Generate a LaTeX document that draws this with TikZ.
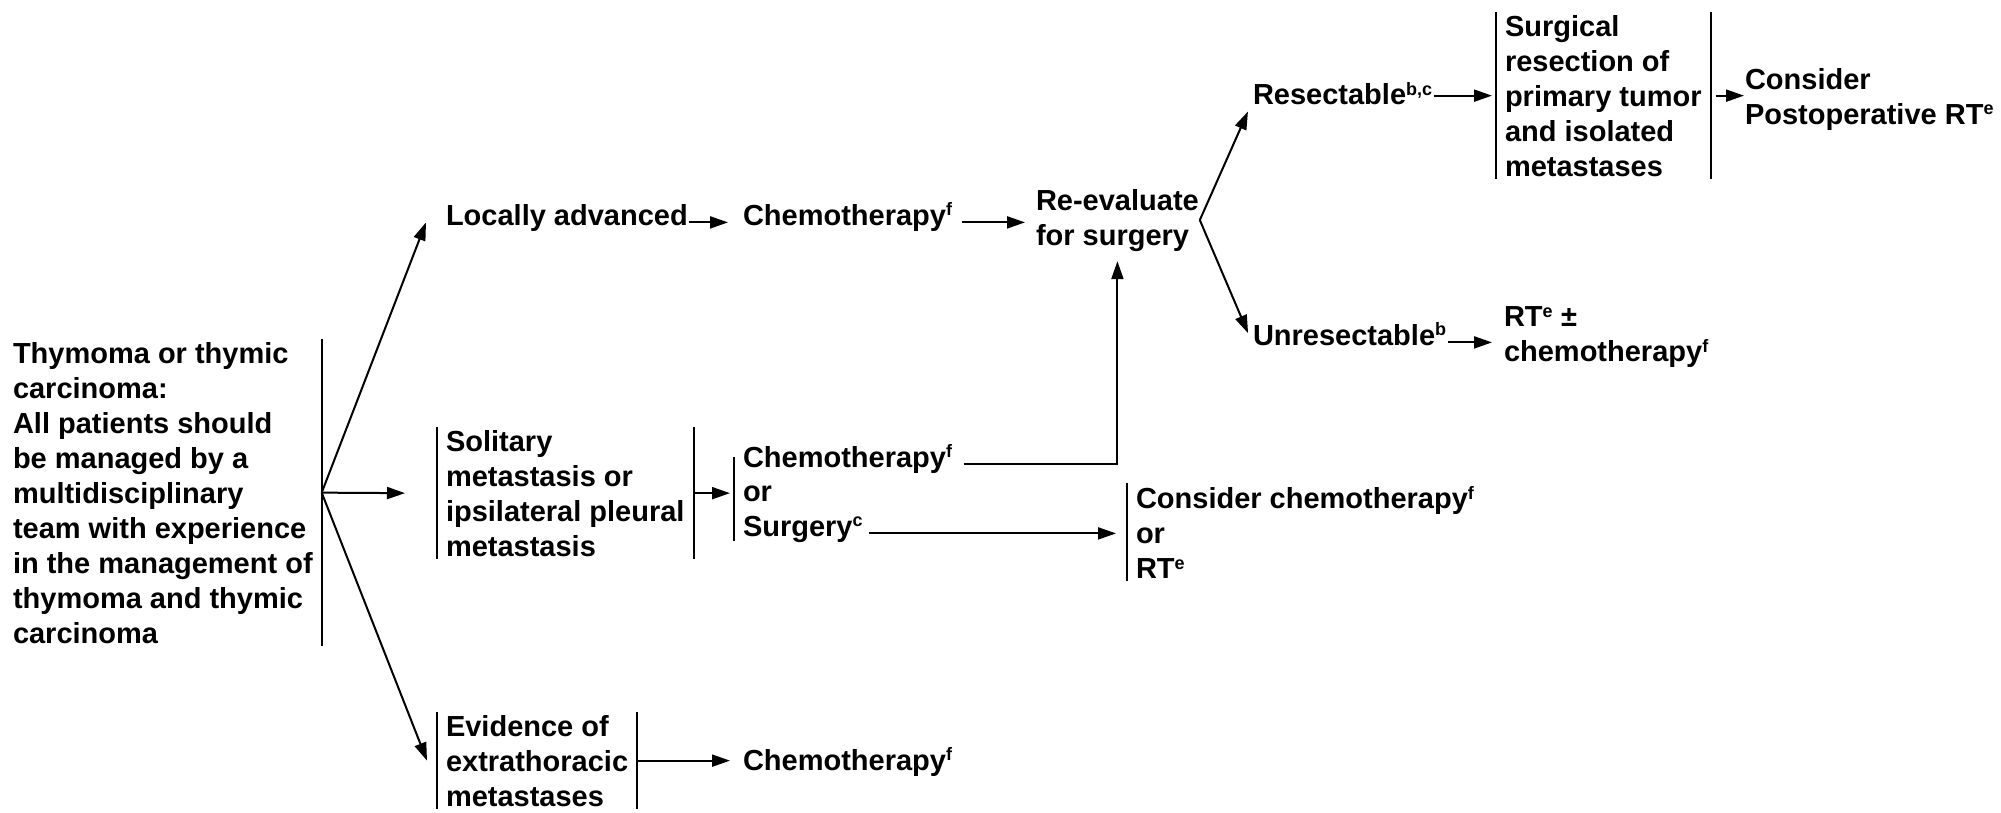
\documentclass[tikz,border=0pt]{standalone}
\usepackage{fontspec}
\setmainfont{Liberation Sans}
\usetikzlibrary{arrows.meta}
\newcommand\sps[1]{\textsuperscript{\fontsize{18}{18}\selectfont #1}}
\begin{document}
\begin{tikzpicture}[x=1pt,y=-1pt,line width=2pt,
    every node/.style={font=\fontsize{29}{35}\selectfont\bfseries,inner xsep=0pt,inner ysep=2pt,align=left},
    one/.style={text height=0.72em,text depth=0.2em},
    box/.style={inner xsep=8pt},
    arr/.style={-{Triangle[length=18pt,width=12pt]}}]
    \useasboundingbox (0,0) rectangle (2001,813);
    % first column
    \node[box,anchor=north west] (main) at (4,339) {Thymoma or thymic\\carcinoma:\\All patients should\\be managed by a\\multidisciplinary\\team with experience\\in the management of\\thymoma and thymic\\carcinoma};
    \node[one,anchor=base west] (la) at (445,225) {Locally advanced};
    \node[box,anchor=north west] (sol) at (437,427) {Solitary\\metastasis or\\ipsilateral pleural\\metastasis};
    \node[box,anchor=north west] (evi) at (437,712) {Evidence of\\extrathoracic\\metastases};
    % treatments
    \node[one,anchor=base west] (chemo1) at (742,225) {Chemotherapy\sps{f}};
    \node[one,anchor=base west] (cchemo) at (742,467) {Chemotherapy\sps{f}};
    \node[one,anchor=base west] (cor) at (742,501) {or};
    \node[one,anchor=base west] (csurg) at (742,536) {Surgery\sps{c}};
    \node[one,anchor=base west] (chemo3) at (742,770) {Chemotherapy\sps{f}};
    \node[anchor=north west] (reeval) at (1035,186) {Re-evaluate\\for surgery};
    \node[box,anchor=north west] (conchemo) at (1127,483) {Consider chemotherapy\sps{f}\\or\\RT\sps{e}};
    % after re-evaluation
    \node[one,anchor=base west] (resect) at (1252,105) {Resectable\sps{b,c}};
    \node[one,anchor=base west] (unresect) at (1252,345) {Unresectable\sps{b}};
    \node[box,anchor=north west] (surg) at (1496,12) {Surgical\\resection of\\primary tumor\\and isolated\\metastases};
    \node[anchor=north west] (postop) at (1744,65) {Consider\\Postoperative RT\sps{e}};
    \node[anchor=north west] (rtchemo) at (1503,304) {RT\sps{e} ±\\chemotherapy\sps{f}};
    % bars
    \draw (main.north east) -- (main.south east);
    \foreach \n in {sol,surg,evi}
    \draw (\n.north west) -- (\n.south west) (\n.north east) -- (\n.south east);
    \draw (conchemo.north west) -- (conchemo.south west);
    \draw ([xshift=-8pt]cchemo.north west) -- ([xshift=-8pt]csurg.south west);
    % arrows
    \draw[arr] (main.east) -- ([xshift=-19pt]la.west);
    \draw[arr] (main.east) -- ([xshift=-32pt]sol.west);
    \draw[arr] (main.east) -- ([xshift=-10pt]evi.west);
    \draw[arr,shorten >=14pt] (la) -- (chemo1);
    \draw[arr,shorten <=8pt,shorten >=10pt] (chemo1.east) -- (chemo1.east -| reeval.west);
    \draw[arr,shorten >=10pt] (reeval.east) -- (resect.west);
    \draw[arr,shorten >=10pt] (reeval.east) -- (unresect.west);
    \draw[arr,shorten >=4pt] (resect.east |- surg.west) -- (surg.west);
    \draw[arr,shorten <=5pt] (surg.east) -- (surg.east -| postop.west);
    \draw[arr,shorten >=11pt] (unresect.east) -- (unresect.east -| rtchemo.west);
    \draw[arr,shorten >=12pt] (sol.east) -- (sol.east -| cor.west);
    \draw[arr,shorten <=10pt,shorten >=7pt] (cchemo.east) -| (reeval.south);
    \draw[arr,shorten <=5pt,shorten >=11pt] (csurg.east) -- (csurg.east -| conchemo.west);
    \draw[arr,shorten >=12pt] (evi.east) -- (evi.east -| chemo3.west);
\end{tikzpicture}
\end{document}
